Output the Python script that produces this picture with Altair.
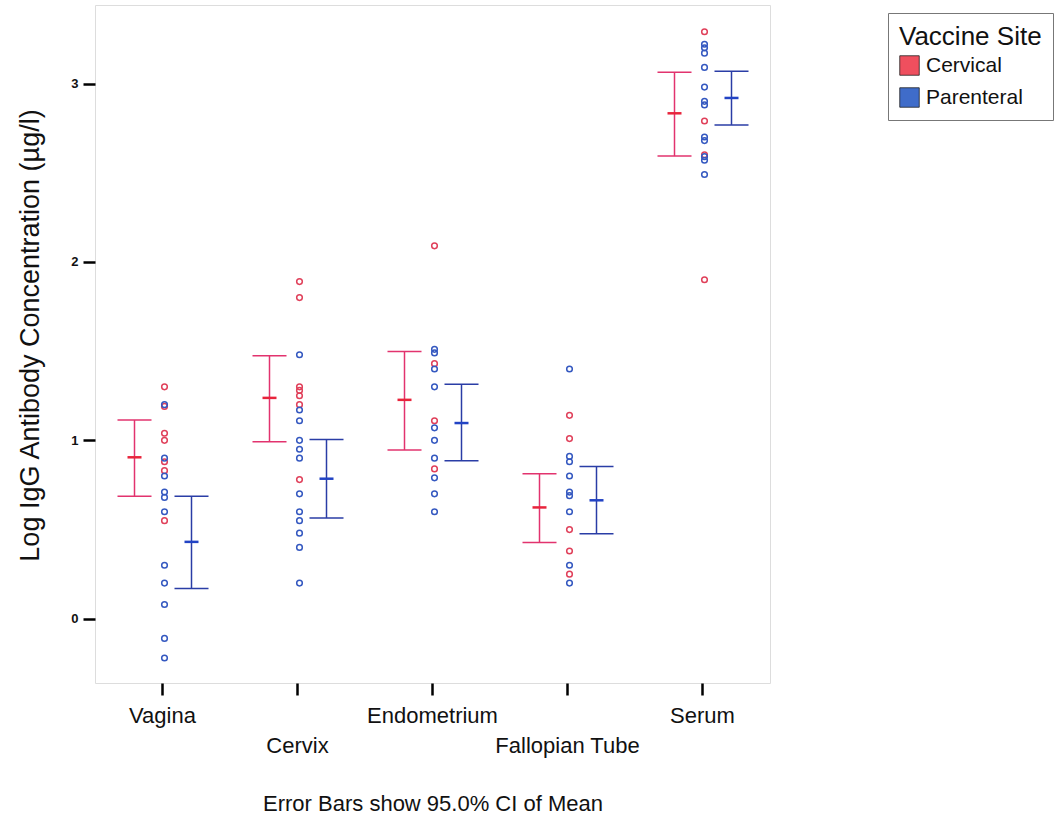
import altair as alt
import pandas as pd

sites = ["Vagina", "Cervix", "Endometrium", "Fallopian Tube", "Serum"]
groups = ["Cervical", "Parenteral"]

# individual observations (log IgG)
cervical_vals = {
    "Vagina": [1.30, 1.19, 1.04, 1.00, 0.88, 0.83, 0.55],
    "Cervix": [1.89, 1.80, 1.30, 1.28, 1.25, 1.20, 0.78],
    "Endometrium": [2.09, 1.43, 1.11, 0.84],
    "Fallopian Tube": [1.14, 1.01, 0.50, 0.38, 0.25],
    "Serum": [3.29, 2.79, 2.60, 1.90],
}
parenteral_vals = {
    "Vagina": [1.20, 0.90, 0.80, 0.71, 0.68, 0.60, 0.30, 0.20, 0.08, -0.11, -0.22],
    "Cervix": [1.48, 1.17, 1.11, 1.00, 0.95, 0.90, 0.70, 0.60, 0.55, 0.48, 0.40, 0.20],
    "Endometrium": [1.51, 1.49, 1.40, 1.30, 1.07, 1.00, 0.90, 0.79, 0.70, 0.60],
    "Fallopian Tube": [1.40, 0.91, 0.88, 0.80, 0.71, 0.69, 0.60, 0.30, 0.20],
    "Serum": [3.22, 3.20, 3.17, 3.09, 2.98, 2.90, 2.88, 2.70, 2.68, 2.59, 2.57, 2.49],
}

# means and 95% CI
mean_c = [0.905, 1.238, 1.227, 0.624, 2.833]
lo_c = [0.686, 0.992, 0.946, 0.427, 2.593]
hi_c = [1.114, 1.474, 1.498, 0.813, 3.063]
mean_p = [0.431, 0.785, 1.097, 0.664, 2.919]
lo_p = [0.170, 0.565, 0.886, 0.476, 2.768]
hi_p = [0.686, 1.005, 1.315, 0.854, 3.069]

row1_sites = ["Vagina", "Endometrium", "Serum"]
row2_sites = ["Cervix", "Fallopian Tube"]

rows = []
for s in sites:
    for v in cervical_vals[s]:
        rows.append({"site": s, "group": "Cervical", "value": v})
    for v in parenteral_vals[s]:
        rows.append({"site": s, "group": "Parenteral", "value": v})
pts = pd.DataFrame(rows)

stats = pd.DataFrame(
    [{"site": s, "group": "Cervical", "mean": m, "lo": l, "hi": h}
     for s, m, l, h in zip(sites, mean_c, lo_c, hi_c)]
    + [{"site": s, "group": "Parenteral", "mean": m, "lo": l, "hi": h}
       for s, m, l, h in zip(sites, mean_p, lo_p, hi_p)]
)

FONT = "Liberation Sans"
pt_colors = ["#E0405A", "#3458C0"]
bar_colors = ["#E2336E", "#2A3DA6"]
mean_colors = ["#E8243C", "#2243C4"]
legend_colors = ["#EF4F5E", "#3F6CC9"]

xenc = alt.X(
    "site:N",
    scale=alt.Scale(domain=sites, paddingInner=0, paddingOuter=0),
    axis=alt.Axis(labels=False, title=None, domain=False, ticks=True,
                  tickSize=12, tickWidth=2.5, tickColor="black", grid=False),
)
yscale = alt.Scale(domain=[-0.36, 3.44], nice=False, zero=False)
yenc_axis = alt.Axis(
    values=[0, 1, 2, 3], format="d", grid=False, domain=False,
    tickSize=12, tickWidth=2.5, tickColor="black",
    labelFont=FONT, labelFontSize=13, labelFontWeight="bold", labelColor="#111",
    labelPadding=5,
    title="Log IgG Antibody Concentration (µg/l)", titleFont=FONT,
    titleFontSize=27, titleFontWeight="normal", titleColor="#111",
    titleAngle=270, titleX=-65, titleY=330, titleAlign="center",
    titleBaseline="middle",
)

# pixel offsets from the start of each 135px band
layers = []
offsets = {"Cervical": 39.5, "Parenteral": 96.5}
PT_OFF = 69.5
for i, g in enumerate(groups):
    sd = stats[stats.group == g]
    base = alt.Chart(sd).encode(x=xenc, xOffset=alt.value(offsets[g]))
    rule = base.mark_rule(color=bar_colors[i], strokeWidth=1.5).encode(
        y=alt.Y("lo:Q", scale=yscale, axis=yenc_axis), y2="hi:Q")
    cap_lo = base.mark_tick(orient="horizontal", size=34, thickness=1.5, opacity=1,
                            color=bar_colors[i]).encode(y=alt.Y("lo:Q", scale=yscale))
    cap_hi = base.mark_tick(orient="horizontal", size=34, thickness=1.5, opacity=1,
                            color=bar_colors[i]).encode(y=alt.Y("hi:Q", scale=yscale))
    mtick = base.mark_tick(orient="horizontal", size=14, thickness=2.5, opacity=1,
                           color=mean_colors[i]).encode(y=alt.Y("mean:Q", scale=yscale))
    layers += [rule, cap_lo, cap_hi, mtick]

    pdat = pts[pts.group == g]
    pl = alt.Chart(pdat).mark_point(filled=False, size=32, strokeWidth=1.5, opacity=1,
                                    color=pt_colors[i]).encode(
        x=xenc, xOffset=alt.value(PT_OFF), y=alt.Y("value:Q", scale=yscale))
    layers.append(pl)

# legend carrier (invisible squares)
leg = alt.Chart(stats).mark_square(size=0, filled=True, strokeWidth=0, opacity=1).encode(
    x=xenc, y=alt.Y("mean:Q", scale=yscale),
    fill=alt.Fill("group:N", scale=alt.Scale(domain=groups, range=legend_colors),
                  legend=alt.Legend(
                      title="Vaccine Site", orient="none", legendX=793, legendY=8,
                      symbolType="square", symbolSize=380, symbolOpacity=1,
                      symbolStrokeColor="#222", symbolStrokeWidth=0.8,
                      titleFont=FONT, titleFontSize=26, titleFontWeight="normal",
                      titleColor="#111", labelFont=FONT, labelFontSize=21,
                      labelColor="#111", strokeColor="#777", fillColor="white",
                      padding=11, rowPadding=9, titlePadding=5, labelOffset=6,
                  )),
)
layers.append(leg)

lab1 = alt.Chart(pd.DataFrame({"site": row1_sites})).mark_text(
    font=FONT, fontSize=22, color="#111", baseline="middle").encode(
    x=xenc, y=alt.value(711), text="site:N")
lab2 = alt.Chart(pd.DataFrame({"site": row2_sites})).mark_text(
    font=FONT, fontSize=22, color="#111", baseline="middle").encode(
    x=xenc, y=alt.value(741), text="site:N")
footer = alt.Chart(pd.DataFrame({"t": ["Error Bars show 95.0% CI of Mean"]})).mark_text(
    font=FONT, fontSize=22, color="#111", baseline="middle").encode(
    x=alt.value(338), y=alt.value(799), text="t:N")
layers += [lab1, lab2, footer]

chart = alt.layer(*layers).properties(
    width=675, height=678,
    autosize=alt.AutoSizeParams(type="none"),
    padding={"left": 95, "top": 5, "right": 288, "bottom": 137},
).configure_view(stroke="#8a8a8a", strokeWidth=1.2).configure(background="white")

chart.save("out.html", embed_options={"renderer": "svg", "actions": False})
